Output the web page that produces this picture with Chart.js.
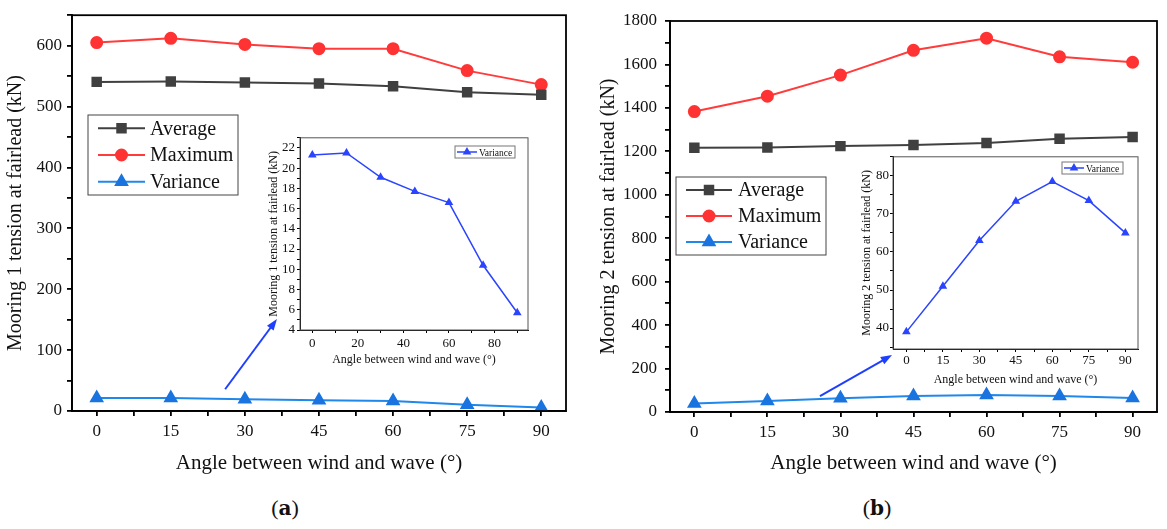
<!DOCTYPE html>
<html>
<head>
<meta charset="utf-8">
<title>Mooring tension vs wind-wave angle</title>
<script src="https://cdn.jsdelivr.net/npm/chart.js@4.4.1/dist/chart.umd.min.js"></script>
<style>
  body { margin: 0; background: #fff; }
  #wrap { position: relative; width: 1167px; height: 529px; overflow: hidden; }
  .box { position: absolute; }
  .tag { position: absolute; font: 22px 'Liberation Serif', serif; color: #111; transform: translate(-50%, -50%); }
  .tag b { font-family: 'DejaVu Serif', serif; font-size: 20px; }
</style>
</head>
<body>
<div id="wrap">
  <div class="box" style="left:0;top:0;width:580px;height:480px"><canvas id="mainA"></canvas></div>
  <div class="box" style="left:590px;top:0;width:577px;height:480px"><canvas id="mainB"></canvas></div>
  <div class="box" style="left:262px;top:128px;width:275px;height:245px"><canvas id="insetA"></canvas></div>
  <div class="box" style="left:855px;top:148px;width:292px;height:245px"><canvas id="insetB"></canvas></div>
  <div class="tag" style="left:285px;top:508px">(<b>a</b>)</div>
  <div class="tag" style="left:877px;top:508px">(<b>b</b>)</div>
</div>
<script>
// ** data
var angles = [0, 15, 30, 45, 60, 75, 90];

var m1Average  = [540.5, 541, 539.5, 538, 533.5, 523.5, 519.5];
var m1Maximum  = [605, 612, 602, 595, 595, 559, 536];
var m1Variance = [21.3, 21.5, 19.1, 17.7, 16.6, 10.4, 5.7];

var m2Average  = [1216, 1218, 1224, 1229, 1238, 1258, 1266];
var m2Maximum  = [1383, 1454, 1551, 1665, 1721, 1635, 1610];
var m2Variance = [39, 51, 63, 73.3, 78.5, 73.5, 65];

var xTitle = 'Angle between wind and wave (°)';
var y1Title = 'Mooring 1 tension at fairlead (kN)';
var y2Title = 'Mooring 2 tension at fairlead (kN)';

Chart.defaults.font.family = "'Liberation Serif', serif";
Chart.defaults.color = '#111';
Chart.defaults.animation = false;

function pts(ys) {
	return angles.map(function(a, i) { return {x: a, y: ys[i]}; });
}

// box round the plot area, like Origin draws it
var frame = {
	id: 'frame',
	afterDraw: function(chart, args, opts) {
		if (!opts.width) return;
		var a = chart.chartArea, ctx = chart.ctx;
		ctx.save();
		ctx.strokeStyle = opts.color;
		ctx.lineWidth = opts.width;
		ctx.strokeRect(a.left, a.top, a.right - a.left, a.bottom - a.top);
		ctx.restore();
	}
};

// legend in a bordered box, line + marker per dataset
var boxLegend = {
	id: 'boxLegend',
	afterDraw: function(chart, args, opts) {
		if (!opts.box) return;
		var ctx = chart.ctx, b = opts.box;
		var sets = chart.data.datasets;
		var rowH = (b[3] - b[1]) / sets.length;
		ctx.save();
		ctx.fillStyle = '#fff';
		ctx.fillRect(b[0], b[1], b[2] - b[0], b[3] - b[1]);
		ctx.strokeStyle = opts.border;
		ctx.lineWidth = 1;
		ctx.strokeRect(b[0], b[1], b[2] - b[0], b[3] - b[1]);
		sets.forEach(function(ds, i) {
			var y = b[1] + rowH * (i + 0.5);
			ctx.strokeStyle = ds.borderColor;
			ctx.lineWidth = ds.borderWidth;
			ctx.beginPath();
			ctx.moveTo(b[0] + opts.line[0], y);
			ctx.lineTo(b[0] + opts.line[1], y);
			ctx.stroke();
			ctx.fillStyle = ds.pointBackgroundColor;
			ctx.strokeStyle = ds.pointBorderColor;
			Chart.helpers.drawPoint(ctx, {pointStyle: ds.pointStyle, radius: ds.pointRadius, rotation: 0, borderWidth: 1},
				b[0] + (opts.line[0] + opts.line[1]) / 2, y);
			ctx.fillStyle = '#111';
			ctx.font = opts.size + "px 'Liberation Serif'";
			ctx.textBaseline = 'middle';
			ctx.fillText(ds.label, b[0] + opts.textX, y + 1);
		});
		ctx.restore();
	}
};

// arrow pointing from the variance line to the inset, given in data units
var arrowNote = {
	id: 'arrowNote',
	afterDraw: function(chart, args, opts) {
		if (!opts.from) return;
		var xs = chart.scales.x, ys = chart.scales.y, ctx = chart.ctx;
		var x1 = xs.getPixelForValue(opts.from[0]), y1 = ys.getPixelForValue(opts.from[1]);
		var x2 = xs.getPixelForValue(opts.to[0]), y2 = ys.getPixelForValue(opts.to[1]);
		var ang = Math.atan2(y2 - y1, x2 - x1), head = 12;
		ctx.save();
		ctx.strokeStyle = opts.color;
		ctx.fillStyle = opts.color;
		ctx.lineWidth = 2;
		ctx.beginPath();
		ctx.moveTo(x1, y1);
		ctx.lineTo(x2 - Math.cos(ang) * head * 0.8, y2 - Math.sin(ang) * head * 0.8);
		ctx.stroke();
		ctx.beginPath();
		ctx.moveTo(x2, y2);
		ctx.lineTo(x2 - head * Math.cos(ang - 0.35), y2 - head * Math.sin(ang - 0.35));
		ctx.lineTo(x2 - head * Math.cos(ang + 0.35), y2 - head * Math.sin(ang + 0.35));
		ctx.closePath();
		ctx.fill();
		ctx.restore();
	}
};

Chart.register(frame, boxLegend, arrowNote);

// note: (max - min) / step must not be whole, or Chart.js starts ticks at min
function axis(o) {
	return {
		type: 'linear',
		min: o.min,
		max: o.max,
		afterFit: function(s) {
			if (s.isHorizontal()) s.height = o.size; else s.width = o.size;
		},
		border: {display: true, color: '#000', width: o.lw},
		grid: {drawOnChartArea: false, drawTicks: true, tickLength: o.tl, color: '#000', lineWidth: o.lw},
		ticks: {
			stepSize: o.step,
			includeBounds: false,
			autoSkip: false,
			maxRotation: 0,
			padding: o.pad,
			color: '#111',
			font: {size: o.fs},
			callback: function(v) { return (Math.abs(v % o.every) < 1e-6) ? v : ''; }
		},
		title: {display: true, text: o.title, color: '#111', font: {size: o.tfs}, padding: o.tpad}
	};
}

function mainSets(avg, max, vari) {
	return [{
		label: 'Average',
		data: pts(avg),
		borderColor: '#404040',
		borderWidth: 2,
		pointStyle: 'rect',
		pointRadius: 6,
		pointBackgroundColor: '#404040',
		pointBorderColor: '#404040'
	}, {
		label: 'Maximum',
		data: pts(max),
		borderColor: '#ff3b3b',
		borderWidth: 2,
		pointStyle: 'circle',
		pointRadius: 5.5,
		pointBackgroundColor: '#ff3333',
		pointBorderColor: '#ff3333'
	}, {
		label: 'Variance',
		data: pts(vari),
		borderColor: '#2088ea',
		borderWidth: 2,
		pointStyle: 'triangle',
		pointRadius: 6.5,
		pointBackgroundColor: '#1a74e0',
		pointBorderColor: '#1a74e0'
	}];
}

function insetSet(vari) {
	return [{
		label: 'Variance',
		data: pts(vari),
		borderColor: '#2a44ff',
		borderWidth: 1.5,
		pointStyle: 'triangle',
		pointRadius: 3.5,
		pointBackgroundColor: '#2a44ff',
		pointBorderColor: '#2a44ff'
	}];
}

function base(sets, pad, xs, ys, plug) {
	plug.legend = {display: false};
	plug.tooltip = {enabled: false};
	return {
		type: 'line',
		data: {datasets: sets},
		options: {
			responsive: true,
			maintainAspectRatio: false,
			layout: {padding: pad},
			scales: {x: xs, y: ys},
			plugins: plug
		}
	};
}

// (a) mooring 1
new Chart(document.getElementById('mainA'), base(
	mainSets(m1Average, m1Maximum, m1Variance),
	{top: 11, right: 14, left: 0, bottom: 0},
	axis({min: -5, max: 95.01, step: 7.5, every: 15, size: 69, lw: 1.8, tl: 5, pad: 5, fs: 17,
		title: xTitle, tfs: 21, tpad: {top: 0, bottom: 4}}),
	axis({min: 0, max: 650, step: 50, every: 100, size: 72, lw: 1.8, tl: 5, pad: 5, fs: 17,
		title: y1Title, tfs: 20, tpad: {top: 4, bottom: 0}}),
	{
		frame: {width: 1.8, color: '#000'},
		boxLegend: {box: [88, 115, 238, 195], border: '#444', line: [10, 57], textX: 62, size: 20},
		arrowNote: {from: [26, 35.7], to: [36.5, 151], color: '#1f3fff'}
	}
));

// (b) mooring 2
new Chart(document.getElementById('mainB'), base(
	mainSets(m2Average, m2Maximum, m2Variance),
	{top: 21, right: 10, left: 0, bottom: 0},
	axis({min: -5, max: 95.01, step: 7.5, every: 15, size: 68, lw: 1.8, tl: 5, pad: 5, fs: 17,
		title: xTitle, tfs: 21, tpad: {top: 0, bottom: 4}}),
	axis({min: 0, max: 1800, step: 100, every: 200, size: 80, lw: 1.8, tl: 5, pad: 8, fs: 17,
		title: y2Title, tfs: 20, tpad: {top: 7, bottom: 0}}),
	{
		frame: {width: 1.8, color: '#000'},
		boxLegend: {box: [86, 177, 236, 255], border: '#444', line: [10, 56], textX: 62, size: 20},
		arrowNote: {from: [25.8, 73.6], to: [40.6, 262], color: '#1f3fff'}
	}
));

// inset of (a): variance only
new Chart(document.getElementById('insetA'), base(
	insetSet(m1Variance),
	{top: 8, right: 9, left: 0, bottom: 0},
	axis({min: -5.4, max: 94.7, step: 10, every: 20, size: 43, lw: 1, tl: 3, pad: 3, fs: 13,
		title: xTitle, tfs: 12, tpad: {top: 0, bottom: 6}}),
	axis({min: 4, max: 23, step: 1, every: 2, size: 38, lw: 1, tl: 3, pad: 2, fs: 13,
		title: y1Title, tfs: 12, tpad: {top: 5, bottom: 0}}),
	{
		frame: {width: 1, color: '#555'},
		boxLegend: {box: [193, 18, 253, 30], border: '#777', line: [2, 22], textX: 24, size: 9.5}
	}
));

// inset of (b): variance only
new Chart(document.getElementById('insetB'), base(
	insetSet(m2Variance),
	{top: 8, right: 9, left: 0, bottom: 0},
	axis({min: -5.5, max: 95.2, step: 7.5, every: 15, size: 44, lw: 1, tl: 3, pad: 1, fs: 13,
		title: xTitle, tfs: 12, tpad: {top: 0, bottom: 6}}),
	axis({min: 34.5, max: 85, step: 5, every: 10, size: 38, lw: 1, tl: 3, pad: 1, fs: 13,
		title: y2Title, tfs: 12, tpad: {top: 5, bottom: 0}}),
	{
		frame: {width: 1, color: '#555'},
		boxLegend: {box: [207, 14, 268, 26], border: '#777', line: [2, 22], textX: 24, size: 9.5}
	}
));
</script>
</body>
</html>
